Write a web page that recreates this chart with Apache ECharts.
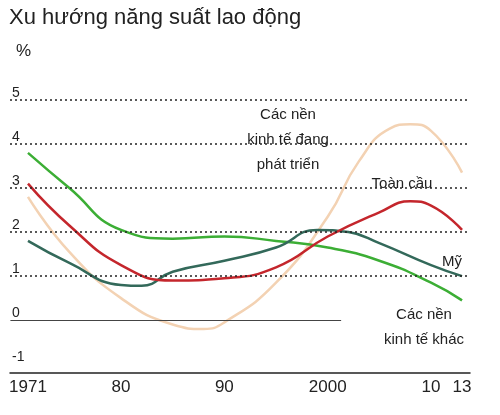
<!DOCTYPE html>
<html><head><meta charset="utf-8">
<script src="https://cdn.jsdelivr.net/npm/echarts@6/dist/echarts.min.js"></script>
<style>html,body{margin:0;background:#fff}#c{width:500px;height:415px}</style>
</head><body><div id="c"></div>
<script>
const FONT = '"Liberation Sans Narrow", "Liberation Sans", sans-serif';
const years = [1971, 1975, 1980, 1985, 1990, 1995, 2000, 2005, 2010, 2013];
const developing = [3.8, 3.0, 2.05, 1.85, 1.9, 1.8, 1.65, 1.35, 0.85, 0.45];
const usYears = [1971, 1975, 1980, 1982, 1985, 1990, 1995, 1999, 2002, 2005, 2010, 2013];
const us = [1.8, 1.3, 0.8, 0.78, 1.1, 1.35, 1.65, 2.05, 2.0, 1.75, 1.25, 1.0];
const globalYears = [1971, 1975, 1980, 1985, 1990, 1995, 2000, 2005, 2008, 2010, 2013];
const global = [3.1, 2.15, 1.25, 0.9, 0.95, 1.2, 1.9, 2.45, 2.7, 2.6, 2.05];
const otherYears = [1971, 1975, 1980, 1985, 1988, 1990, 1995, 2000, 2003, 2006, 2008, 2010, 2013];
const other = [2.8, 1.55, 0.5, -0.1, -0.2, -0.05, 0.85, 2.35, 3.6, 4.35, 4.45, 4.3, 3.35];
const xTicks = [1971, 1980, 1990, 2000, 2010, 2013];
const xTickLabels = ['1971', '80', '90', '2000', '10', '13'];
const yTicks = [-1, 0, 1, 2, 3, 4, 5];

const pair = (xs, ys) => xs.map((x, i) => [x, ys[i]]);
const chart = echarts.init(document.getElementById('c'));

function line(name, xs, ys, color) {
  return { name: name, type: 'line', smooth: true, symbol: 'none', data: pair(xs, ys),
    lineStyle: { color: color, width: 2.5 } };
}

const guides = line('guides', [], [], '#000');
guides.markLine = {
  silent: true, symbol: 'none', label: { show: false },
  data: [1, 2, 3, 4, 5].map(v => ({ yAxis: v, lineStyle: { type: [2, 3], color: '#222', width: 1.5 } }))
    .concat([[{ coord: [1969.3, 0], lineStyle: { type: 'solid', color: '#444', width: 1.2 } }, { coord: [2001.3, 0] }]])
};

const txt = (x, y, text) => ({ type: 'text', x: x, y: y,
  style: { text: text, align: 'center', lineHeight: 25, fontSize: 15, fontFamily: FONT, fill: '#222' } });

chart.setOption({
  backgroundColor: '#fff',
  animation: false,
  title: { text: 'Xu hướng năng suất lao động', left: 4, top: 2,
    textStyle: { fontFamily: FONT, fontSize: 22, fontWeight: 'normal', color: '#222' } },
  grid: { left: 10, right: 30, top: 100, bottom: 42 },
  xAxis: { type: 'value', min: 1969.26, max: 2013.77,
    axisLine: { onZero: false, lineStyle: { color: '#222', width: 1.5 } },
    axisTick: { show: false }, splitLine: { show: false },
    axisLabel: { customValues: xTicks, margin: 6, color: '#222', fontSize: 17, fontFamily: FONT,
      formatter: v => xTickLabels[xTicks.indexOf(v)] } },
  yAxis: { type: 'value', min: -1.2, max: 5, name: '%', nameLocation: 'end', nameGap: 40,
    nameTextStyle: { align: 'left', padding: [0, 0, 0, 6], fontSize: 17, color: '#222', fontFamily: FONT },
    axisLine: { show: false }, axisTick: { show: false }, splitLine: { show: false },
    axisLabel: { customValues: yTicks, inside: true, margin: 2, verticalAlign: 'bottom',
      color: '#222', fontSize: 14, fontFamily: FONT } },
  series: [
    guides,
    line('Các nền kinh tế khác', otherYears, other, '#f3d2b3'),
    line('Các nền kinh tế đang phát triển', years, developing, '#3cae35'),
    line('Mỹ', usYears, us, '#33695a'),
    line('Toàn cầu', globalYears, global, '#c4262c')
  ],
  graphic: [
    txt(288, 102, 'Các nền\nkinh tế đang\nphát triển'),
    txt(402, 171, 'Toàn cầu'),
    txt(452, 249, 'Mỹ'),
    txt(424, 302, 'Các nền\nkinh tế khác')
  ]
});
</script></body></html>
